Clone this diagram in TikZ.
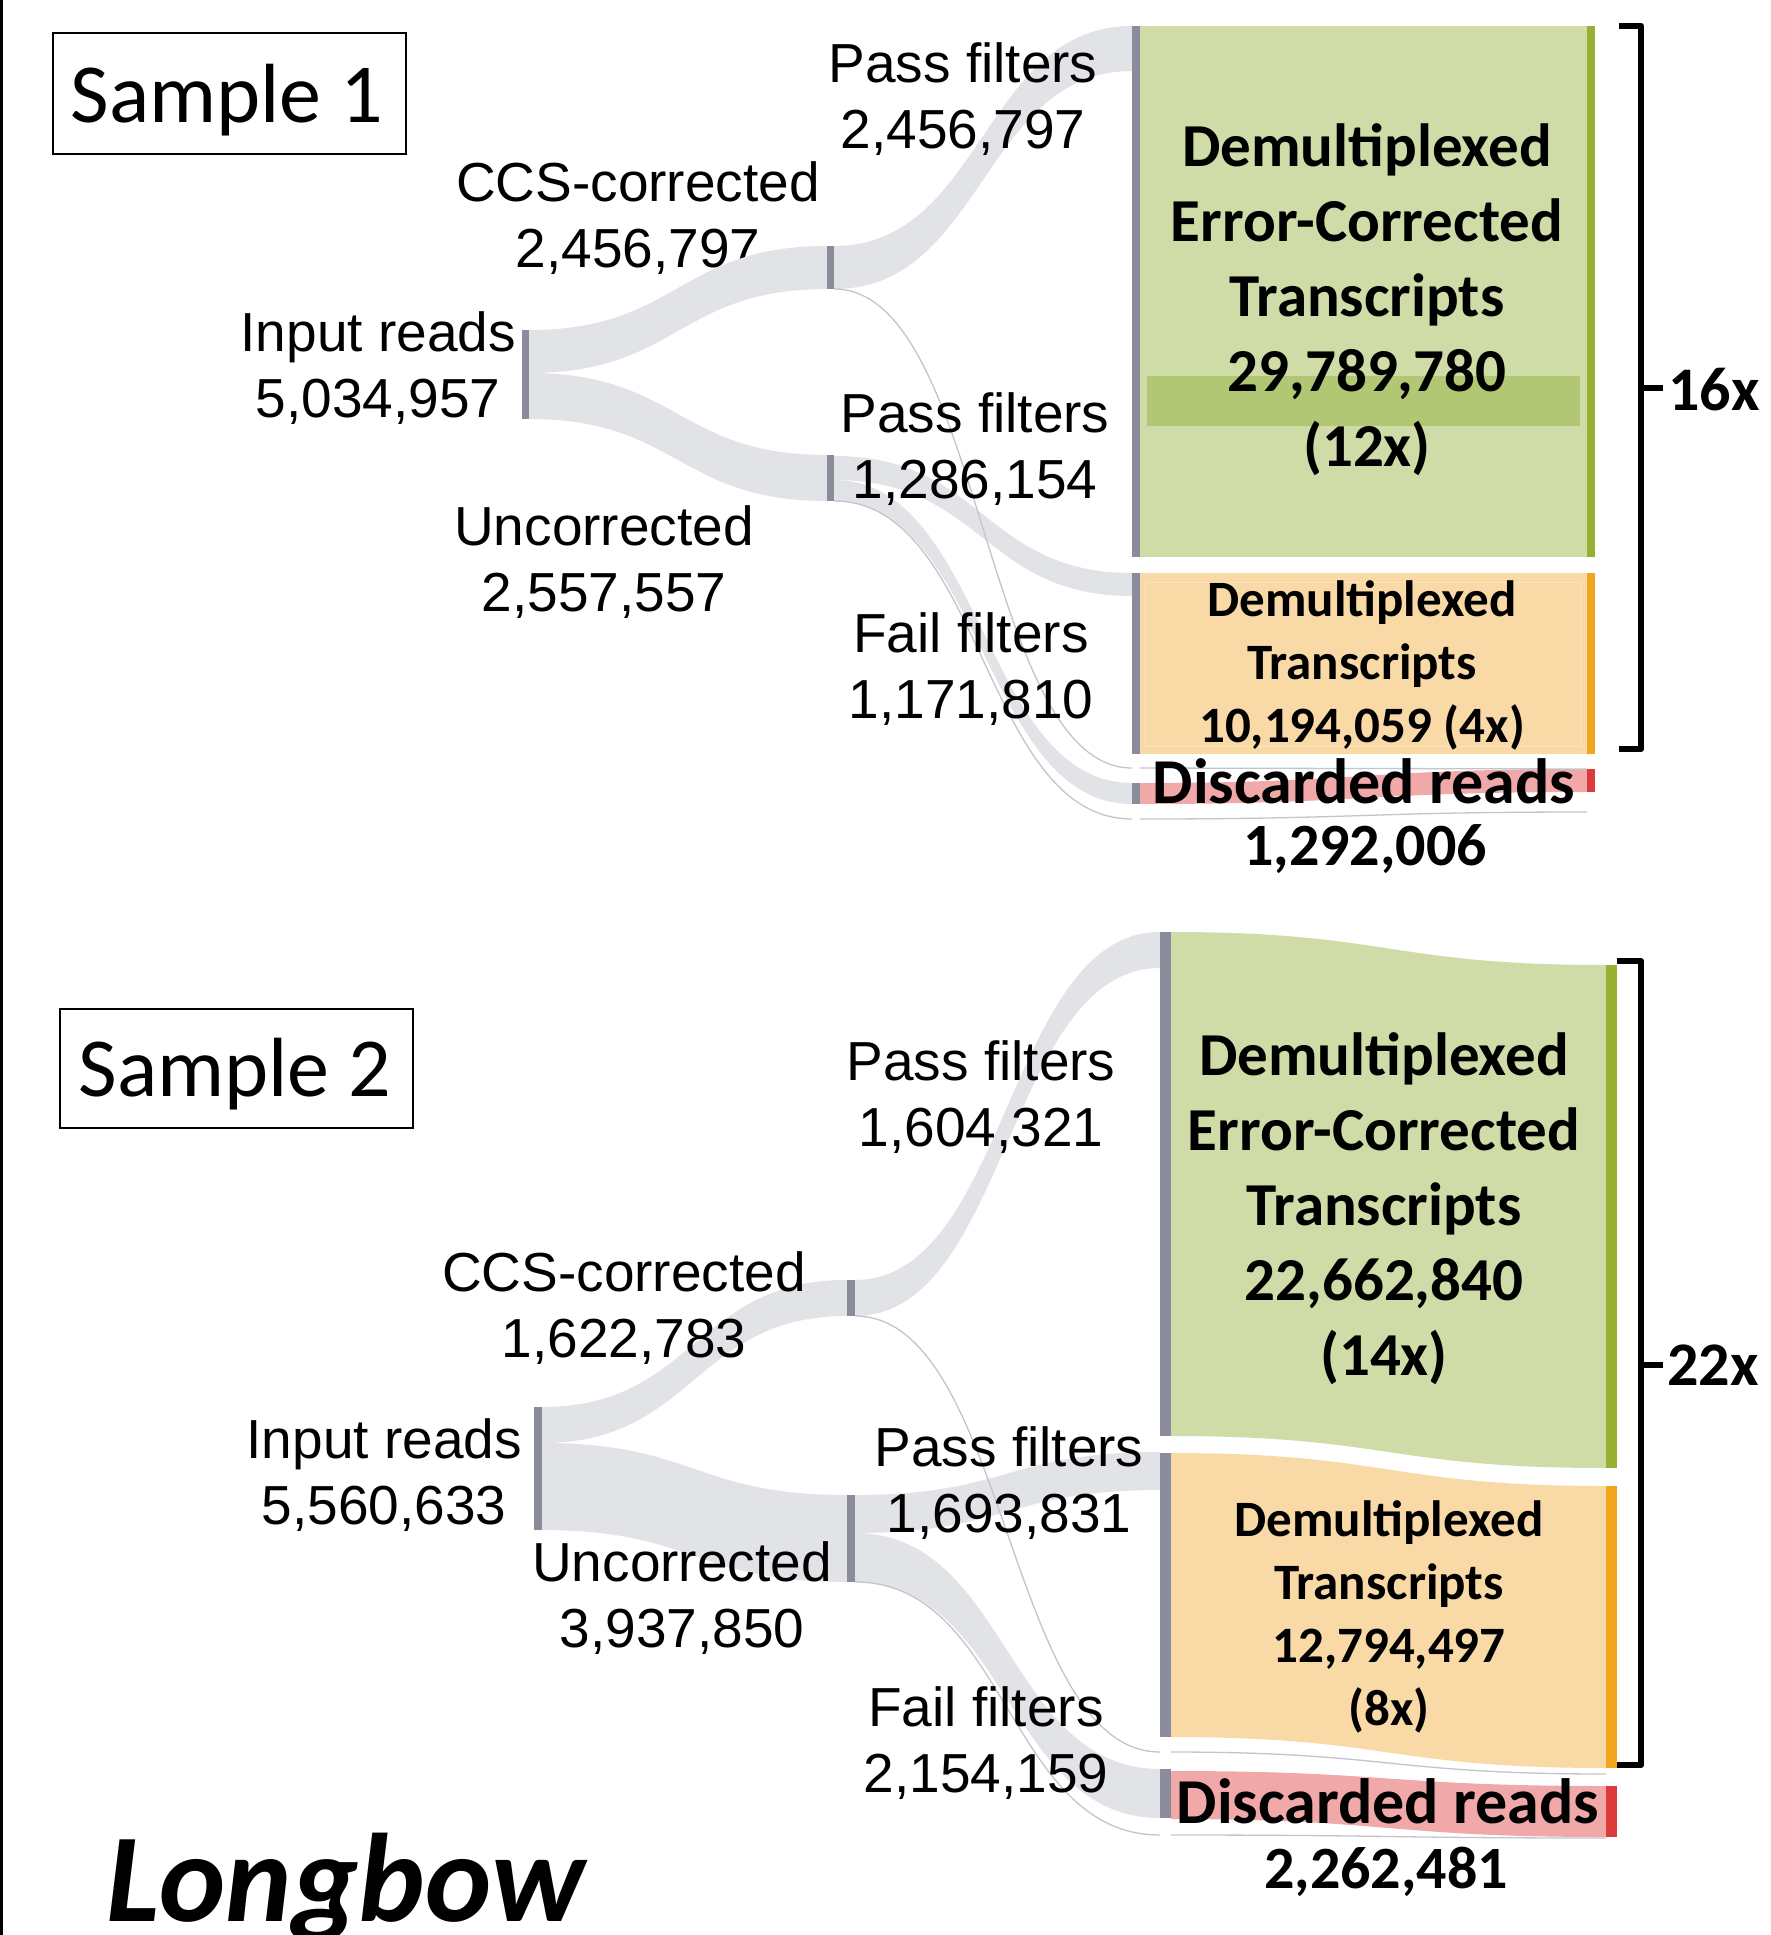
\documentclass[tikz,border=0pt]{standalone}
\usepackage{fontspec}
\setmainfont{Liberation Sans}
\newfontfamily\calfont{Carlito}
\definecolor{flowc}{RGB}{226,227,231}
\definecolor{nodec}{RGB}{138,140,156}
\definecolor{greenf}{RGB}{207,220,167}
\definecolor{greenb}{RGB}{178,199,115}
\definecolor{greend}{RGB}{150,176,50}
\definecolor{orangef}{RGB}{249,217,166}
\definecolor{orangel}{RGB}{252,228,190}
\definecolor{oranged}{RGB}{242,166,30}
\definecolor{pinkf}{RGB}{240,168,168}
\definecolor{redd}{RGB}{221,59,59}
\definecolor{thinc}{RGB}{196,197,203}
% color, x0, y0top, y0bot, x1, y1top, y1bot
\newcommand\flowband[7]{%
  \fill[#1] (#2,#3) .. controls ({(#2+#5)/2},#3) and ({(#2+#5)/2},#6) .. (#5,#6)
    -- (#5,#7) .. controls ({(#2+#5)/2},#7) and ({(#2+#5)/2},#4) .. (#2,#4) -- cycle;}
% x0,y0,x1,y1
\newcommand\thinflow[4]{%
  \draw[thinline] (#1,#2) .. controls ({(#1+#3)/2},#2) and ({(#1+#3)/2},#4) .. (#3,#4);}
% name, x0, y0, x1, y1, color
\newcommand\barnode[6]{%
  \node[fill=#6, inner sep=0pt, outer sep=0pt, minimum width={#4pt-#2pt},
        minimum height={#5pt-#3pt}] (#1) at ({(#2+#4)/2},{(#3+#5)/2}) {};}
\tikzset{
  lbl/.style={font=\fontsize{55}{66}\selectfont, align=center, inner sep=0pt},
  ecl/.style={font=\calfont\bfseries\fontsize{61}{75}\selectfont, align=center, inner sep=0pt},
  dtl/.style={font=\calfont\bfseries\fontsize{51}{63}\selectfont, align=center, inner sep=0pt},
  drl/.style={font=\calfont\bfseries\fontsize{64}{70}\selectfont, inner sep=0pt},
  drn/.style={font=\calfont\bfseries\fontsize{60}{70}\selectfont, inner sep=0pt},
  cov/.style={font=\calfont\bfseries\fontsize{62}{70}\selectfont, inner sep=0pt, anchor=west},
  samplebox/.style={draw, line width=2pt, inner sep=0pt},
  sampletxt/.style={font=\calfont\fontsize{84}{100}\selectfont, inner sep=0pt},
  brk/.style={line width=6.5pt, line join=round, line cap=butt},
  thinline/.style={draw=thinc, line width=1.3pt}
}
\begin{document}
\begin{tikzpicture}[x=1pt,y=-1pt]
\useasboundingbox (0,0) rectangle (1771,1935);
\fill[white] (0,0) rectangle (1771,1935);
\draw[line width=3pt] (1.5,0) -- (1.5,1935);

%================ Sample 1 ================
\node[samplebox, minimum width=353pt, minimum height=121pt] (s1) at (229.5,93.5) {};
\node[sampletxt] (s1t) at (227,100) {Sample 1};
\node[lbl] (ccs1l) at (638,218) {CCS-corrected\\2,456,797};

% flows
\flowband{flowc}{529}{330}{373}{827}{246}{289}
\flowband{flowc}{529}{373}{419}{827}{455}{501}
\flowband{flowc}{834}{246}{289}{1132}{26}{71}
\flowband{flowc}{834}{456}{480}{1132}{573}{596}
\flowband{flowc}{834}{480}{501}{1132}{783}{804}
\fill[greenf] (1140,26) rectangle (1587,557);
\fill[greenb] (1147,376) rectangle (1580,426);
\fill[orangef] (1140,573) rectangle (1587,754);
\draw[orangel, line width=1pt] (1145,582) rectangle (1580,746);
\flowband{pinkf}{1140}{783}{804}{1587}{769}{792}

\thinflow{834}{289}{1132}{768}
\thinflow{1140}{768}{1587}{769}
\thinflow{834}{501}{1132}{819}
\thinflow{1140}{819}{1587}{812}

% bars
\barnode{in1}{522}{330}{529}{419}{nodec}
\barnode{ccs1}{827}{246}{834}{289}{nodec}
\barnode{unc1}{827}{455}{834}{501}{nodec}
\barnode{pf1}{1132}{26}{1140}{557}{nodec}
\barnode{pf2}{1132}{573}{1140}{754}{nodec}
\barnode{ff1}{1132}{783}{1140}{804}{nodec}
\barnode{ec1}{1587}{26}{1595}{557}{greend}
\barnode{dt1}{1587}{573}{1595}{754}{oranged}
\barnode{dr1}{1587}{769}{1595}{792}{redd}

% labels
\node[lbl, anchor=east] (in1l) at (516,368) {Input reads\\5,034,957};
\node[lbl] (unc1l) at (604,562) {Uncorrected\\2,557,557};
\node[lbl] (pf1l) at (963,99) {Pass filters\\2,456,797};
\node[lbl] (pf2l) at (975,449) {Pass filters\\1,286,154};
\node[lbl] (ff1l) at (971,669) {Fail filters\\1,171,810};
\node[ecl] (ec1l) at (1367,300) {Demultiplexed\\Error-Corrected\\Transcripts\\29,789,780\\(12x)};
\node[dtl] (dt1l) at (1362,665) {Demultiplexed\\Transcripts\\10,194,059 (4x)};
\node[drl] (dr1l) at (1364,781) {Discarded reads};
\node[drn] (dr1n) at (1365,849) {1,292,006};

% bracket
\draw[brk] (1619,26) -- (1641,26) -- (1641,749) -- (1619,749);
\draw[brk] (1641,388) -- (1663,388);
\node[cov] (x16) at (1668,390) {16x};

%================ Sample 2 ================
\node[samplebox, minimum width=353pt, minimum height=119pt] (s2) at (236.5,1068.5) {};
\node[sampletxt] (s2t) at (235,1074) {Sample 2};

\flowband{flowc}{542}{1407}{1443}{847}{1280}{1316}
\flowband{flowc}{542}{1443}{1530}{847}{1495}{1582}
\flowband{flowc}{855}{1280}{1316}{1160}{932}{968}
\flowband{flowc}{855}{1495}{1533}{1160}{1452}{1490}
\flowband{flowc}{855}{1533}{1582}{1160}{1769}{1818}
\flowband{greenf}{1171}{932}{1436}{1606}{965}{1468}
\flowband{orangef}{1171}{1453}{1737}{1606}{1486}{1768}
\flowband{pinkf}{1171}{1771}{1819}{1606}{1786}{1837}

\thinflow{855}{1316}{1160}{1752}
\thinflow{1171}{1752}{1606}{1774}
\thinflow{855}{1582}{1160}{1835}
\thinflow{1171}{1835}{1606}{1838}

\barnode{in2}{534}{1407}{542}{1530}{nodec}
\barnode{ccs2}{847}{1280}{855}{1316}{nodec}
\barnode{unc2}{847}{1495}{855}{1582}{nodec}
\barnode{pf3}{1160}{932}{1171}{1436}{nodec}
\barnode{pf4}{1160}{1453}{1171}{1737}{nodec}
\barnode{ff2}{1160}{1769}{1171}{1818}{nodec}
\barnode{ec2}{1606}{965}{1617}{1468}{greend}
\barnode{dt2}{1606}{1486}{1617}{1768}{oranged}
\barnode{dr2}{1606}{1786}{1617}{1837}{redd}

\node[lbl, anchor=east] (in2l) at (522,1475) {Input reads\\5,560,633};
\node[lbl] (ccs2l) at (624,1308) {CCS-corrected\\1,622,783};
\node[lbl] (unc2l) at (682,1598) {Uncorrected\\3,937,850};
\node[lbl] (pf3l) at (981,1097) {Pass filters\\1,604,321};
\node[lbl] (pf4l) at (1009,1483) {Pass filters\\1,693,831};
\node[lbl] (ff2l) at (986,1743) {Fail filters\\2,154,159};
\node[ecl] (ec2l) at (1384,1209) {Demultiplexed\\Error-Corrected\\Transcripts\\22,662,840\\(14x)};
\node[dtl] (dt2l) at (1389,1617) {Demultiplexed\\Transcripts\\12,794,497\\(8x)};
\node[drl] (dr2l) at (1388,1801) {Discarded reads};
\node[drn] (dr2n) at (1386,1872) {2,262,481};

\draw[brk] (1617,961) -- (1641,961) -- (1641,1765) -- (1617,1765);
\draw[brk] (1641,1365) -- (1663,1365);
\node[cov] (x22) at (1667,1365) {22x};

\node[font=\calfont\bfseries\itshape\fontsize{126}{140}\selectfont, anchor=base west, inner sep=0pt] (lb) at (106,1921) {Longbow};
\end{tikzpicture}
\end{document}
